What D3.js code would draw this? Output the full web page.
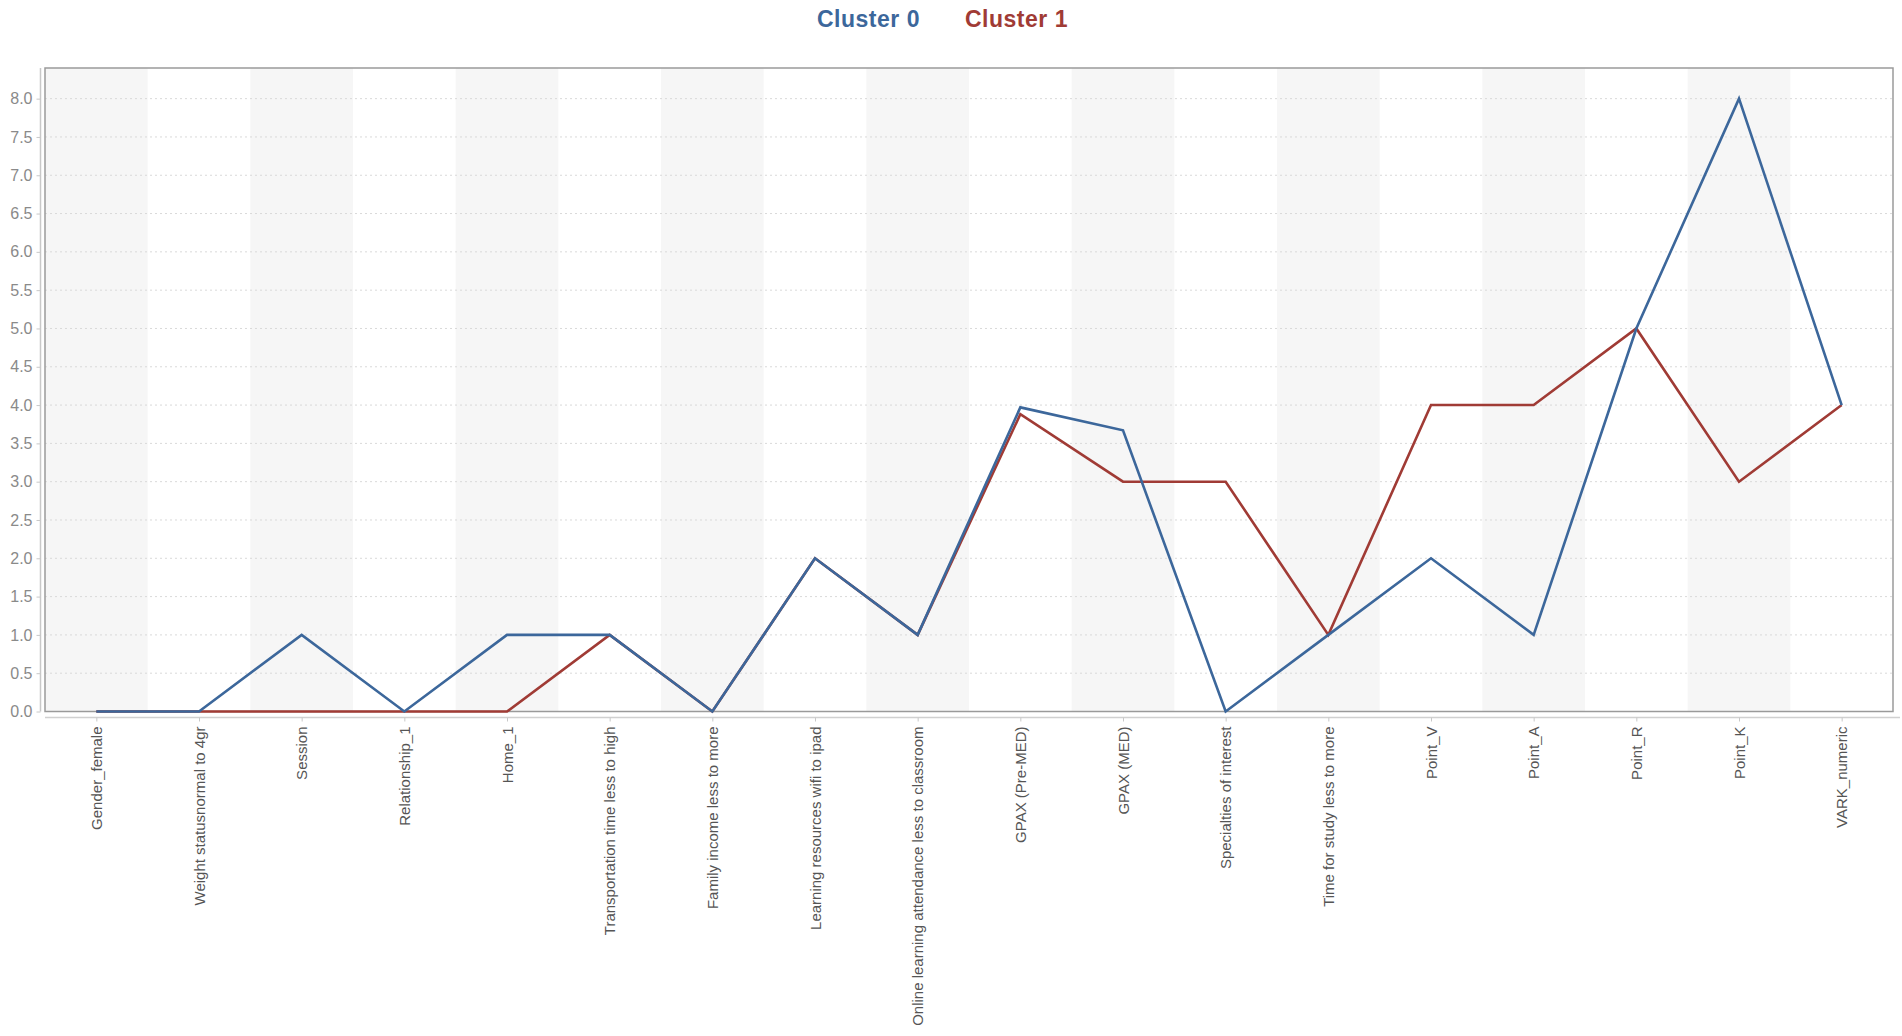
<!DOCTYPE html>
<html lang="en">
<head>
  <meta charset="UTF-8">
  <title>Cluster 0 / Cluster 1 profile</title>
  <script src="https://d3js.org/d3.v7.min.js"></script>
  <style>
    body {
      margin: 0;
      background: #ffffff;
      font-family: "Liberation Sans", Arial, sans-serif;
    }
    .grid line {
      stroke: #d9d9d9;
      stroke-dasharray: 2,3;
    }
    .ytick text {
      fill: #8a8a8a;
      font-size: 16px;
    }
    .xtick text {
      fill: #555;
      font-size: 15px;
    }
    .line {
      fill: none;
      stroke-width: 2.6px;
      stroke-linejoin: miter;
    }
  </style>
</head>
<body>

<div id="chart"></div>

<script>
// categories along the x axis
const features = [
  "Gender_female",
  "Weight statusnormal to 4gr",
  "Session",
  "Relationship_1",
  "Home_1",
  "Transportation time less to high",
  "Family income  less to more",
  "Learning resources wifi to ipad",
  "Online learning attendance less to classroom",
  "GPAX (Pre-MED)",
  "GPAX (MED)",
  "Specialties of interest",
  "Time for study less to more",
  "Point_V",
  "Point_A",
  "Point_R",
  "Point_K",
  "VARK_numeric"
];

// values
const cluster0 = [0, 0, 1, 0, 1, 1, 0, 2, 1, 3.97, 3.67, 0, 1, 2, 1, 5, 8, 4];
const cluster1 = [0, 0, 0, 0, 0, 1, 0, 2, 1, 3.88, 3.0, 3.0, 1, 4, 4, 5, 3, 4];

const seriesNames = ["Cluster 0", "Cluster 1"];
const seriesColors = ["#3c679b", "#a03b35"];

const yTicks = d3.range(0, 8.01, 0.5);

const W = 1902, H = 1036;
const plot = { left: 45, right: 1893, top: 68, bottom: 711.5 };

const svg = d3.select("#chart")
    .append("svg")
    .attr("width", W)
    .attr("height", H);

const x = d3.scalePoint()
    .domain(features)
    .range([plot.left, plot.right])
    .padding(0.5);

const y = d3.scaleLinear()
    .domain([0, 8.4])
    .range([plot.bottom, plot.top]);

const step = x.step();

// alternating band shading
svg.append("g")
  .selectAll("rect")
  .data(features.filter((d, i) => i % 2 === 0))
  .join("rect")
    .attr("x", d => x(d) - step / 2)
    .attr("y", plot.top)
    .attr("width", step)
    .attr("height", plot.bottom - plot.top)
    .attr("fill", "#f6f6f6");

// dotted horizontal grid
svg.append("g")
    .attr("class", "grid")
  .selectAll("line")
  .data(yTicks)
  .join("line")
    .attr("x1", plot.left)
    .attr("x2", plot.right)
    .attr("y1", d => y(d))
    .attr("y2", d => y(d));

// frame
svg.append("rect")
    .attr("x", plot.left)
    .attr("y", plot.top)
    .attr("width", plot.right - plot.left)
    .attr("height", plot.bottom - plot.top)
    .attr("fill", "none")
    .attr("stroke", "#9a9a9a")
    .attr("stroke-width", 1.5);

// y axis, detached a bit to the left of the frame
const yAxis = svg.append("g")
    .attr("class", "ytick")
    .attr("transform", "translate(40.5,0)")
    .call(d3.axisLeft(y).tickValues(yTicks).tickFormat(d3.format(".1f")).tickSize(4).tickPadding(4).tickSizeOuter(0));
yAxis.select(".domain").attr("stroke", "#c8c8c8").attr("stroke-width", 1.5)
    .attr("d", `M0,${plot.top}V${plot.bottom}`);
yAxis.selectAll(".tick line").attr("stroke", "#c8c8c8");

// x axis, detached a bit below the frame
const xAxis = svg.append("g")
    .attr("class", "xtick")
    .attr("transform", "translate(0,717.5)")
    .call(d3.axisBottom(x).tickSize(4).tickSizeOuter(0));
xAxis.select(".domain").attr("stroke", "#d0d0d0").attr("stroke-width", 1.5)
    .attr("d", `M${plot.left},0H${W - 2}`);
xAxis.selectAll(".tick line").attr("stroke", "#c8c8c8");
xAxis.selectAll(".tick text")
    .attr("transform", "rotate(-90)")
    .attr("text-anchor", "end")
    .attr("x", -9)
    .attr("y", 0)
    .attr("dy", "0.35em");

// lines: cluster 1 underneath, cluster 0 on top
const line = d3.line()
    .x((d, i) => x(features[i]))
    .y(d => y(d));

[cluster1, cluster0].forEach((vals, k) => {
  const idx = k === 0 ? 1 : 0;
  svg.append("path")
      .datum(vals)
      .attr("class", "line")
      .attr("stroke", seriesColors[idx])
      .attr("d", line);
});

// legend title
const legend = svg.append("g")
    .attr("font-weight", "bold")
    .attr("font-size", "23px");
legend.selectAll("text")
  .data(seriesNames)
  .join("text")
    .attr("x", (d, i) => i === 0 ? 817 : 965)
    .attr("y", 27)
    .attr("fill", (d, i) => seriesColors[i])
    .attr("letter-spacing", "0.5px")
    .text(d => d);
</script>

</body>
</html>
